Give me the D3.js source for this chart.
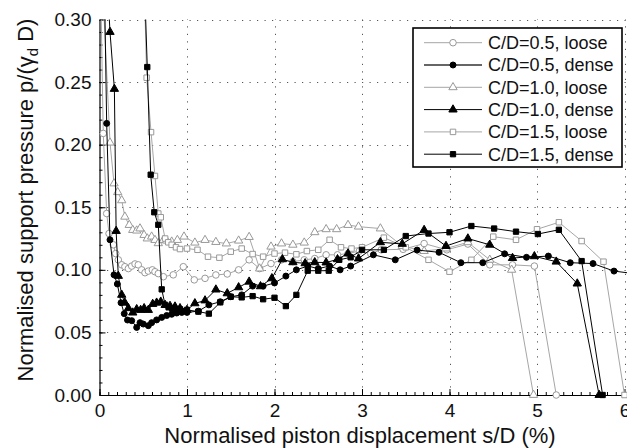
<!DOCTYPE html>
<html><head><meta charset="utf-8">
<script src="https://cdn.jsdelivr.net/npm/d3@7"></script>
<style>
html,body{margin:0;padding:0;background:#fff;}
svg text{font-family:"Liberation Sans",Arial,Helvetica,sans-serif;fill:#111;}
</style></head>
<body>
<svg id="c" width="627" height="448"></svg>
<script>
// ---- data (x = s/D %, y = p/(gamma_d D)) ----
const seriesNames = ["C/D=0.5, loose","C/D=0.5, dense","C/D=1.0, loose","C/D=1.0, dense","C/D=1.5, loose","C/D=1.5, dense"];
const xTicks = [0,1,2,3,4,5,6];
const yTicks = [0,0.05,0.10,0.15,0.20,0.25,0.30];

const cd05Loose = [[0.01,0.34],[0.043,0.209],[0.082,0.145],[0.109,0.129],[0.158,0.120],[0.185,0.113],[0.215,0.108],[0.254,0.104],[0.29,0.1025],[0.33,0.101],[0.368,0.103],[0.406,0.1047],[0.443,0.104],[0.482,0.100],[0.52,0.0977],[0.558,0.099],[0.604,0.100],[0.634,0.0985],[0.672,0.097],[0.73,0.0945],[0.843,0.096],[0.958,0.1025],[1.083,0.092],[1.206,0.0932],[1.33,0.0959],[1.46,0.0967],[1.59,0.100],[1.71,0.108],[1.83,0.101],[1.96,0.105],[2.08,0.108],[2.21,0.1065],[2.34,0.108],[2.46,0.109],[2.59,0.112],[2.72,0.112],[2.84,0.113],[2.97,0.115],[3.1,0.113],[3.22,0.116],[3.47,0.1164],[3.71,0.121],[3.97,0.116],[4.21,0.1206],[4.46,0.104],[4.72,0.104],[4.97,0.103],[5.22,0]];

const cd05Dense = [[0.056,0.33],[0.082,0.217],[0.12,0.124],[0.166,0.096],[0.204,0.0887],[0.246,0.0737],[0.283,0.065],[0.32,0.0599],[0.368,0.0594],[0.425,0.054],[0.463,0.0578],[0.5,0.0567],[0.558,0.0554],[0.596,0.0578],[0.653,0.060],[0.711,0.062],[0.768,0.0635],[0.825,0.0645],[0.882,0.0655],[0.94,0.066],[1.0,0.066],[1.13,0.067],[1.25,0.072],[1.38,0.0745],[1.5,0.0785],[1.625,0.080],[1.75,0.087],[1.87,0.087],[2.0,0.0895],[2.13,0.095],[2.25,0.100],[2.38,0.103],[2.5,0.101],[2.63,0.103],[2.75,0.100],[2.87,0.103],[3.13,0.112],[3.38,0.108],[3.63,0.1158],[3.88,0.114],[4.13,0.1057],[4.38,0.1057],[4.63,0.1128],[4.88,0.110],[5.13,0.111],[5.38,0.1057],[5.64,0.105],[5.88,0.099],[6.05,0.0975]];

const cd10Loose = [[0.04,0.32],[0.12,0.2016],[0.166,0.169],[0.208,0.162],[0.254,0.1555],[0.29,0.1424],[0.34,0.1358],[0.38,0.1318],[0.425,0.1313],[0.463,0.133],[0.509,0.1278],[0.546,0.125],[0.596,0.1265],[0.634,0.1238],[0.672,0.1212],[0.73,0.1238],[0.768,0.1233],[0.825,0.1225],[0.89,0.1238],[0.966,0.1265],[1.09,0.1217],[1.206,0.1238],[1.33,0.1222],[1.45,0.121],[1.59,0.1233],[1.71,0.1262],[1.83,0.101],[1.96,0.1185],[2.08,0.121],[2.21,0.120],[2.34,0.1217],[2.46,0.130],[2.59,0.1324],[2.71,0.1324],[2.84,0.1358],[2.96,0.1345],[3.21,0.133],[3.46,0.119],[3.71,0.115],[3.96,0.117],[4.21,0.122],[4.46,0.108],[4.71,0.100],[4.96,0]];

const cd10Dense = [[0.09,0.33],[0.12,0.29],[0.17,0.2445],[0.19,0.131],[0.215,0.0951],[0.254,0.080],[0.29,0.0737],[0.33,0.0693],[0.38,0.0658],[0.425,0.0685],[0.47,0.0679],[0.51,0.0693],[0.558,0.0679],[0.608,0.0727],[0.653,0.0737],[0.70,0.0745],[0.75,0.0719],[0.806,0.0711],[0.863,0.0706],[0.92,0.0693],[1.0,0.0679],[1.09,0.0732],[1.206,0.0755],[1.33,0.0842],[1.46,0.0812],[1.59,0.086],[1.71,0.0905],[1.84,0.0868],[1.97,0.0932],[2.09,0.1084],[2.21,0.106],[2.35,0.1052],[2.46,0.106],[2.59,0.1058],[2.72,0.1084],[2.84,0.113],[2.96,0.109],[3.21,0.122],[3.46,0.1207],[3.71,0.1318],[3.96,0.119],[4.21,0.125],[4.46,0.120],[4.72,0.1094],[4.97,0.1108],[5.22,0.1065],[5.46,0.089],[5.71,0]];

const cd15Loose = [[0.50,0.36],[0.539,0.2535],[0.589,0.21],[0.634,0.175],[0.672,0.145],[0.70,0.142],[0.75,0.125],[0.786,0.122],[0.825,0.120],[0.874,0.118],[0.92,0.1166],[1.0,0.117],[1.12,0.116],[1.24,0.1105],[1.37,0.1097],[1.5,0.1145],[1.625,0.117],[1.75,0.1126],[1.87,0.1105],[2.0,0.113],[2.12,0.1137],[2.25,0.1124],[2.37,0.115],[2.5,0.116],[2.63,0.124],[2.76,0.118],[2.88,0.117],[3.0,0.118],[3.25,0.1257],[3.5,0.118],[3.76,0.108],[4.0,0.0985],[4.25,0.108],[4.5,0.1265],[4.76,0.124],[5.0,0.1324],[5.25,0.138],[5.51,0.123],[5.76,0.1065],[6.0,0]];

const cd15Dense = [[0.49,0.38],[0.546,0.262],[0.585,0.176],[0.626,0.146],[0.672,0.136],[0.711,0.0844],[0.75,0.072],[0.79,0.070],[0.83,0.069],[0.87,0.068],[0.92,0.0685],[0.96,0.067],[1.0,0.068],[1.13,0.0666],[1.25,0.065],[1.38,0.074],[1.5,0.0785],[1.625,0.078],[1.75,0.079],[1.87,0.0765],[2.0,0.0777],[2.13,0.071],[2.25,0.080],[2.38,0.0993],[2.5,0.0993],[2.62,0.0993],[2.74,0.108],[2.87,0.110],[3.0,0.116],[3.25,0.116],[3.5,0.127],[3.76,0.129],[4.0,0.130],[4.25,0.135],[4.51,0.133],[4.76,0.1305],[5.01,0.1286],[5.25,0.132],[5.51,0.107],[5.75,0]];

// ---- styles ----
const GRAY = "#a6a6a6";
const styles = [
  {data:cd05Loose, color:GRAY, sym:"circle", filled:false},
  {data:cd05Dense, color:"#000", sym:"circle", filled:true},
  {data:cd10Loose, color:GRAY, sym:"triangle", filled:false},
  {data:cd10Dense, color:"#000", sym:"triangle", filled:true},
  {data:cd15Loose, color:GRAY, sym:"square", filled:false},
  {data:cd15Dense, color:"#000", sym:"square", filled:true}
];

const svg = d3.select("#c");
const L=99.5, R=624.5, T=19.5, B=395;
const x = d3.scaleLinear().domain([0,6]).range([L,R]);
const y = d3.scaleLinear().domain([0,0.3]).range([B,T]);

// grid
const grid = svg.append("g").attr("stroke","#555").attr("stroke-width",1).attr("stroke-dasharray","1.2,6.3");
grid.selectAll(".gx").data(xTicks.filter(d=>d>0)).enter().append("line")
  .attr("x1",d=>Math.round(x(d))+0.5).attr("x2",d=>Math.round(x(d))+0.5).attr("y1",B).attr("y2",T);
grid.selectAll(".gy").data(yTicks.filter(d=>d>0)).enter().append("line")
  .attr("y1",d=>Math.round(y(d))+0.5).attr("y2",d=>Math.round(y(d))+0.5).attr("x1",L).attr("x2",R+3);

// axes
const fontTick = "19px";
const xMinor = d3.range(0,6.001,0.1);
const yMinor = d3.range(0,0.3001,0.01);
svg.append("g").attr("transform",`translate(0,${B})`)
  .call(d3.axisBottom(x).tickValues(xMinor).tickSize(-3).tickSizeOuter(0).tickFormat(""))
  .call(g=>g.select(".domain").remove());
svg.append("g").attr("transform",`translate(${L},0)`)
  .call(d3.axisLeft(y).tickValues(yMinor).tickSize(-3).tickSizeOuter(0).tickFormat(""))
  .call(g=>g.select(".domain").remove());
const xa = svg.append("g").attr("transform",`translate(0,${B})`)
  .call(d3.axisBottom(x).tickValues(xTicks).tickSize(-6).tickSizeOuter(0).tickPadding(9).tickFormat(d3.format("d")));
xa.selectAll("text").attr("font-size",fontTick).attr("fill","#111");
const ya = svg.append("g").attr("transform",`translate(${L},0)`)
  .call(d3.axisLeft(y).tickValues(yTicks).tickSize(-6).tickSizeOuter(0).tickPadding(8).tickFormat(d3.format(".2f")));
ya.selectAll("text").attr("font-size",fontTick).attr("fill","#111");
svg.selectAll(".domain").attr("stroke","#000").attr("stroke-width",1.2);
svg.selectAll(".tick line").attr("stroke","#000");

// clip
svg.append("clipPath").attr("id","clip").append("rect").attr("x",L).attr("y",T).attr("width",627-L).attr("height",B-T+1);

const symType = {circle:d3.symbolCircle, triangle:d3.symbolTriangle, square:d3.symbolSquare};
const symSize = {circle:{o:34,f:28}, triangle:{o:30,f:30}, square:{o:30,f:28}};
function drawMarker(g, st, px, py){
  const sz = st.filled ? symSize[st.sym].f : symSize[st.sym].o;
  g.append("path").attr("d", d3.symbol().type(symType[st.sym]).size(sz)())
    .attr("transform",`translate(${px},${py})`)
    .attr("fill", st.filled ? "#000" : "#fff")
    .attr("stroke", st.filled ? "#000" : "#999").attr("stroke-width",1);
}

const line = d3.line().x(d=>x(d[0])).y(d=>y(d[1]));
const order = [0,2,4,1,3,5];
order.forEach(i=>{
  const st = styles[i];
  const g = svg.append("g");
  g.append("path").datum(st.data).attr("d",line).attr("clip-path","url(#clip)")
    .attr("fill","none").attr("stroke",st.color).attr("stroke-width",1);
  st.data.filter(d=>d[1]<=0.3 && d[0]<=6).forEach(d=>drawMarker(g, st, x(d[0]), y(d[1])));
});

// axis titles
svg.append("text").attr("x",360).attr("y",443).attr("text-anchor","middle").attr("font-size","22px")
  .text("Normalised piston displacement s/D (%)");
const yt = svg.append("text").attr("transform","translate(33,200) rotate(-90)").attr("text-anchor","middle").attr("font-size","22px");
yt.append("tspan").text("Normalised support pressure p/(γ");
yt.append("tspan").attr("font-size","15px").attr("dy","5").text("d");
yt.append("tspan").attr("dy","-5").text(" D)");

// legend
const lg = svg.append("g");
lg.append("rect").attr("x",413).attr("y",28).attr("width",209).attr("height",139)
  .attr("fill","#fff").attr("stroke","#000").attr("stroke-width",1.6);
seriesNames.forEach((name,i)=>{
  const st = styles[i];
  const cy = 42.7 + i*22.3;
  lg.append("line").attr("x1",424).attr("x2",482).attr("y1",cy).attr("y2",cy)
    .attr("stroke", i===1 ? "#333" : st.color).attr("stroke-width", i===1 ? 1.6 : 1);
  drawMarker(lg, st, 453, cy);
  lg.append("text").attr("x",488).attr("y",cy).attr("dy","0.36em").attr("font-size","18px").text(name);
});
</script>
</body></html>
